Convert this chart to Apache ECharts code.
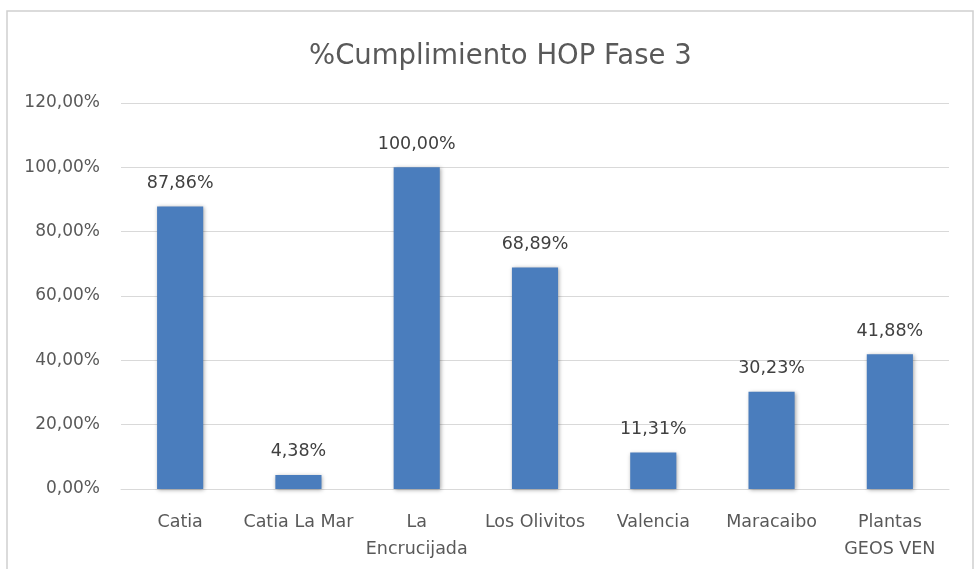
<!DOCTYPE html>
<html>
<head>
<meta charset="utf-8">
<script src="https://cdn.jsdelivr.net/npm/echarts@6/dist/echarts.min.js"></script>
<style>html,body{margin:0;padding:0;background:#fff}#c{width:974px;height:569px}</style>
</head>
<body>
<div id="c"></div>
<script>
var titleText = '%Cumplimiento HOP Fase 3';
var categories = ['Catia', 'Catia La Mar', 'La\nEncrucijada', 'Los Olivitos', 'Valencia', 'Maracaibo', 'Plantas\nGEOS VEN'];
var values = [87.86, 4.38, 100.00, 68.89, 11.31, 30.23, 41.88];
var yMin = 0, yMax = 120, yStep = 20;

function fmt(v) { return v.toFixed(2).replace('.', ',') + '%'; }

var FONT = 'DejaVu Sans';
var chart = echarts.init(document.getElementById('c'));
chart.setOption({
  animation: false,
  backgroundColor: '#fff',
  textStyle: { fontFamily: FONT },
  graphic: [{
    type: 'rect', shape: { x: 7, y: 11, width: 966, height: 580 },
    style: { fill: 'none', stroke: '#d0d0d0', lineWidth: 1.5 }, silent: true
  }],
  title: {
    text: titleText, left: 304, top: 38,
    textStyle: { fontFamily: FONT, fontSize: 27.5, fontWeight: 'normal', color: '#595959' }
  },
  grid: { left: 121, right: 25, top: 103, bottom: 80 },
  xAxis: {
    type: 'category', data: categories,
    axisLine: { lineStyle: { color: '#d9d9d9', width: 1 } },
    axisTick: { show: false },
    axisLabel: { color: '#595959', fontFamily: FONT, fontSize: 17.5, margin: 20, lineHeight: 27, interval: 0 }
  },
  yAxis: {
    type: 'value', min: yMin, max: yMax, interval: yStep,
    axisLine: { show: false }, axisTick: { show: false },
    splitLine: { lineStyle: { color: '#d9d9d9', width: 1 } },
    axisLabel: { color: '#595959', fontFamily: FONT, fontSize: 17, margin: 21, formatter: fmt }
  },
  series: [{
    type: 'bar', data: values, barWidth: '39%',
    itemStyle: { color: '#4a7dbd', shadowColor: 'rgba(0,0,0,0.35)', shadowBlur: 4, shadowOffsetX: 1, shadowOffsetY: 1 },
    label: { show: true, position: 'top', distance: 14, color: '#404040', fontFamily: FONT, fontSize: 17.5,
      formatter: function (p) { return fmt(p.value); } }
  }]
});
</script>
</body>
</html>
